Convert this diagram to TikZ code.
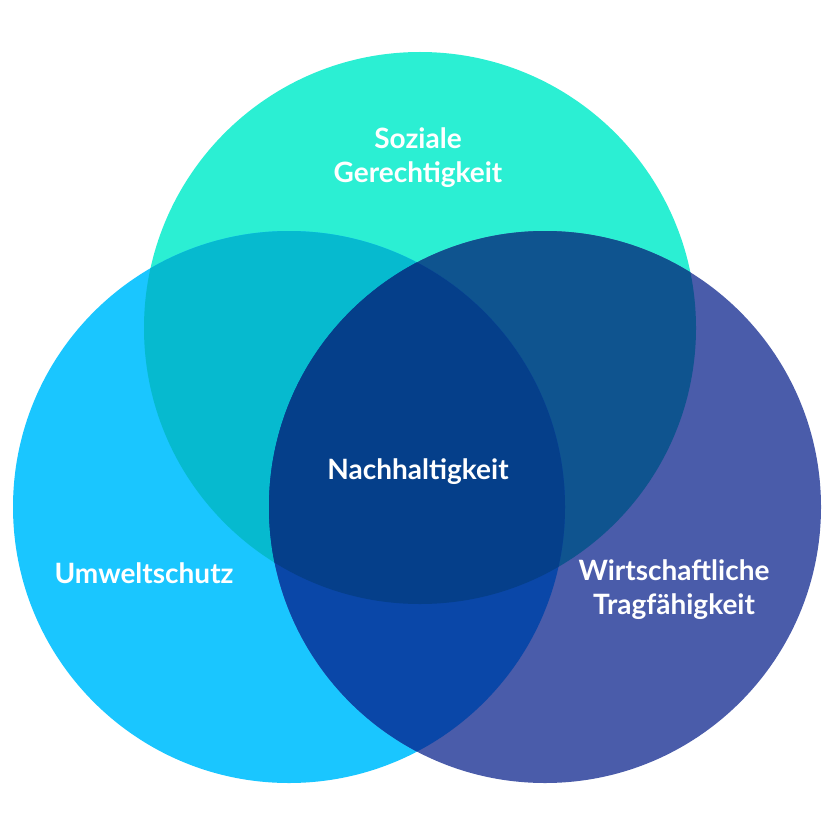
\documentclass[tikz,border=0pt]{standalone}
\usepackage{fontspec}
\setmainfont{Lato}
\definecolor{cT}{HTML}{2BEFD3}
\definecolor{cL}{HTML}{1AC6FF}
\definecolor{cR}{HTML}{4A5CAA}
\definecolor{cTL}{HTML}{06BACF}
\definecolor{cTR}{HTML}{0F548F}
\definecolor{cLR}{HTML}{0A47A8}
\definecolor{cC}{HTML}{053F8A}
\tikzset{lbl/.style={text=white,font=\bfseries\fontsize{28}{34}\selectfont,align=center}}
\begin{document}
\begin{tikzpicture}[x=1pt,y=-1pt]
\useasboundingbox (0,0) rectangle (837,837);
\def\T{(420,328) circle (276)}
\def\L{(289,507) circle (276)}
\def\R{(545,507) circle (276)}
\fill[cT] \T; \fill[cL] \L; \fill[cR] \R;
\begin{scope}\clip \T; \fill[cTL] \L; \end{scope}
\begin{scope}\clip \T; \fill[cTR] \R; \end{scope}
\begin{scope}\clip \L; \fill[cLR] \R; \end{scope}
\begin{scope}\clip \T; \clip \L; \fill[cC] \R; \end{scope}
\node[lbl] (s) at (418,158) {Soziale\\Gerechtigkeit};
\node[lbl] (n) at (418,472) {Nachhaltigkeit};
\node[lbl] (u) at (144,573) {Umweltschutz};
\node[lbl] (w) at (674,590) {Wirtschaftliche\\Tragfähigkeit};
\end{tikzpicture}
\end{document}
